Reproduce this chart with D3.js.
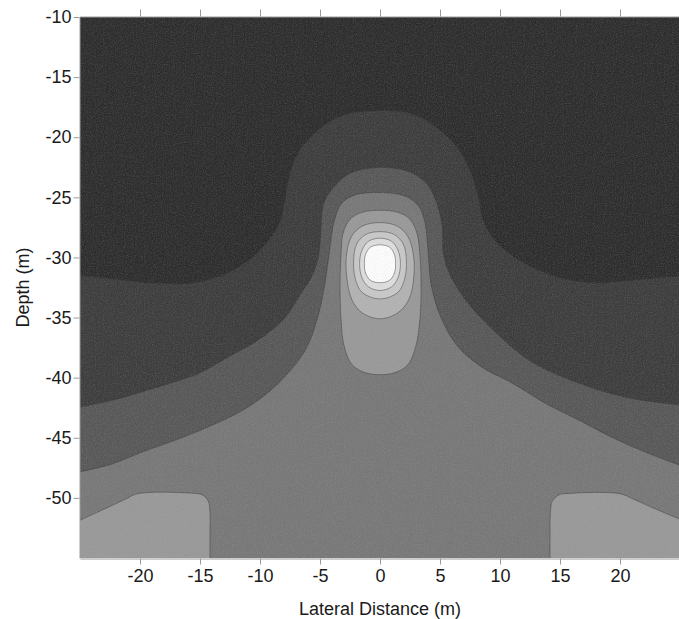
<!DOCTYPE html>
<html>
<head>
<meta charset="utf-8">
<script src="https://cdn.jsdelivr.net/npm/d3@7/dist/d3.min.js"></script>
<style>
  html, body { margin: 0; padding: 0; background: #fff; }
  svg { display: block; }
  text { font-family: "Liberation Sans", Arial, Helvetica, sans-serif; }
</style>
</head>
<body>
<svg id="chart" width="679" height="619"></svg>
<script>
// ---------- DATA (x = lateral distance m, y = depth m) ----------
const xTicks = [-20, -15, -10, -5, 0, 5, 10, 15, 20];
const yTicks = [-10, -15, -20, -25, -30, -35, -40, -45, -50];
const xDomain = [-25, 25];
const yDomain = [-10, -55];

// contour level index of each filled band (0 = darkest background, 8 = white core)
const levels = [0, 1, 2, 3, 4, 5, 6, 7, 8];

// boundary between level 0 and level 1 (edge to edge, with central hump)
const contour01 = [
  [-25.3, -31.5], [-22, -31.8], [-19.6, -32.1], [-15.4, -32.1], [-12.7, -31.3], [-10.8, -30.1],
  [-9.3, -28.6], [-8.3, -26.9], [-7.9, -25.0], [-7.5, -23.0], [-6.7, -21.1], [-5.0, -19.25],
  [-2.9, -18.1], [0, -17.8], [2.5, -18.0], [4.6, -19.1], [6.4, -20.8], [7.5, -22.75],
  [8.2, -25.0], [8.6, -26.9], [9.6, -28.6], [11.25, -30.0], [12.9, -30.9], [15.25, -31.75],
  [18.1, -32.1], [20.8, -31.9], [25.3, -31.5]
];
// boundary between level 1 and level 2
const contour12 = [
  [-25.3, -42.5], [-22.4, -41.9], [-19.6, -41.1], [-16.8, -40.25], [-15.0, -39.6], [-12.7, -38.3],
  [-9.9, -36.7], [-7.9, -35.0], [-6.6, -33.0], [-5.75, -31.7], [-5.2, -30.25], [-5.0, -28.8],
  [-4.9, -27.3], [-4.7, -25.5], [-3.9, -24.2], [-2.5, -23.0], [0, -22.5], [2.5, -22.9],
  [4.0, -24.0], [4.8, -25.7], [5.2, -27.6], [5.25, -29.4], [5.6, -30.9], [6.3, -32.3],
  [7.5, -34.0], [9.2, -35.8], [12.5, -38.6], [16.7, -40.5], [20.8, -41.7], [25.3, -42.3]
];
// boundary between level 2 and level 3
const contour23 = [
  [-25.3, -47.9], [-22.4, -47.2], [-19.6, -46.1], [-16.8, -45.1], [-14.1, -44.0], [-11.25, -42.6],
  [-8.5, -40.5], [-6.25, -37.75], [-5.2, -35.0], [-4.6, -32.2], [-4.2, -29.4], [-3.8, -26.9],
  [-3.2, -25.5], [-2.1, -24.8], [0, -24.6], [2.1, -24.9], [3.2, -25.7], [3.75, -27.1],
  [4.0, -29.4], [4.25, -32.2], [5.0, -34.8], [6.4, -37.3], [8.3, -39.0], [11.1, -40.5],
  [13.9, -42.2], [16.7, -43.6], [19.4, -45.0], [22.25, -46.25], [25.3, -47.4]
];
// level 3 -> 4 : bottom-left light block
const contour34Left = [
  [-14.17, -55.6], [-14.17, -53], [-14.17, -51.2], [-14.3, -50.3], [-14.8, -49.75], [-15.8, -49.6],
  [-20.2, -49.65], [-21.2, -50.1], [-22.6, -50.75], [-25.3, -52.0]
];
// level 3 -> 4 : bottom-right light block
const contour34Right = [
  [14.17, -55.6], [14.17, -53], [14.2, -51.2], [14.35, -50.3], [14.9, -49.75], [15.9, -49.62],
  [20.0, -49.65], [21.1, -50.1], [22.9, -50.9], [25.3, -51.9]
];
// level 3 -> 4 : central bell (closed)
const contour34Bell = [
  [0, -26.08], [-1.5, -26.25], [-2.5, -26.83], [-3.08, -28.0], [-3.25, -29.83], [-3.33, -32.33],
  [-3.25, -35.08], [-3.0, -37.33], [-2.33, -38.92], [-1.25, -39.58], [0, -39.75], [1.25, -39.58],
  [2.33, -38.92], [3.0, -37.33], [3.33, -35.08], [3.42, -32.33], [3.33, -29.83], [3.08, -28.0],
  [2.5, -26.83], [1.5, -26.25]
];
// level 4 -> 5 (closed)
const contour45 = [
  [0, -27.1], [-1.5, -27.4], [-2.4, -28.3], [-2.8, -29.9], [-2.75, -31.8], [-2.35, -33.5],
  [-1.5, -34.6], [0, -35.1], [1.5, -34.6], [2.4, -33.5], [2.8, -31.8], [2.8, -29.9],
  [2.35, -28.3], [1.45, -27.4]
];
// level 5 -> 6 (closed)
const contour56 = [
  [0, -27.85], [-1.2, -28.1], [-1.95, -28.9], [-2.2, -30.3], [-2.05, -31.8], [-1.5, -32.9],
  [0, -33.45], [1.5, -32.9], [2.05, -31.8], [2.2, -30.3], [1.95, -28.9], [1.2, -28.1]
];
// level 6 -> 7 (closed)
const contour67 = [
  [0, -28.4], [-0.95, -28.65], [-1.5, -29.4], [-1.7, -30.5], [-1.5, -31.7], [-0.95, -32.45],
  [0, -32.75], [0.95, -32.45], [1.5, -31.7], [1.7, -30.5], [1.5, -29.4], [0.95, -28.65]
];
// level 7 -> 8 (closed, white core)
const contour78 = [
  [0, -28.95], [-0.8, -29.15], [-1.2, -29.75], [-1.3, -30.5], [-1.2, -31.3], [-0.8, -31.9],
  [0, -32.1], [0.8, -31.9], [1.2, -31.3], [1.3, -30.5], [1.2, -29.75], [0.8, -29.15]
];

// ---------- CHART ----------
const svg = d3.select("#chart");
const x = d3.scaleLinear().domain(xDomain).range([80, 680]);
const y = d3.scaleLinear().domain(yDomain).range([17, 558]);
const gray = d3.scaleLinear()
  .domain([0, 1, 2, 3, 4, 5, 6, 7, 8])
  .range(["#2c2c2c", "#3c3c3c", "#575757", "#777777", "#989898", "#b2b2b2", "#c8c8c8", "#dedede", "#fdfdfd"]);

const defs = svg.append("defs");
defs.append("clipPath").attr("id", "plotClip")
  .append("rect")
  .attr("x", x(xDomain[0])).attr("y", y(yDomain[0]))
  .attr("width", x(xDomain[1]) - x(xDomain[0]))
  .attr("height", y(yDomain[1]) - y(yDomain[0]));

// subtle print grain
const grain = defs.append("filter").attr("id", "grain")
  .attr("x", 0).attr("y", 0).attr("width", "100%").attr("height", "100%");
grain.append("feTurbulence").attr("type", "fractalNoise").attr("baseFrequency", 0.9)
  .attr("numOctaves", 2).attr("seed", 3).attr("result", "noise");
grain.append("feColorMatrix").attr("in", "noise").attr("type", "matrix")
  .attr("values", "0 0 0 0 0.5  0 0 0 0 0.5  0 0 0 0 0.5  0.6 0.6 0.6 0 -0.75");

const plot = svg.append("g").attr("clip-path", "url(#plotClip)");

const openLine = d3.line().x(d => x(d[0])).y(d => y(d[1])).curve(d3.curveCatmullRom.alpha(0.5));
const closedLine = d3.line().x(d => x(d[0])).y(d => y(d[1])).curve(d3.curveCatmullRomClosed.alpha(0.5));

// background level 0
plot.append("rect")
  .attr("x", x(xDomain[0])).attr("y", y(yDomain[0]))
  .attr("width", x(xDomain[1]) - x(xDomain[0]))
  .attr("height", y(yDomain[1]) - y(yDomain[0]))
  .attr("fill", gray(levels[0]));

function bandToBottom(pts, lvl) {
  const d = openLine(pts) + "L" + x(25.5) + "," + y(-56) + "L" + x(-25.5) + "," + y(-56) + "Z";
  plot.append("path").attr("d", d).attr("fill", gray(lvl));
}
function cornerBlock(pts, cornerX, lvl) {
  const d = openLine(pts) + "L" + x(cornerX) + "," + y(-56) + "Z";
  plot.append("path").attr("d", d).attr("fill", gray(lvl));
}
function closedBand(pts, lvl) {
  plot.append("path").attr("d", closedLine(pts)).attr("fill", gray(lvl));
}

bandToBottom(contour01, levels[1]);
bandToBottom(contour12, levels[2]);
bandToBottom(contour23, levels[3]);
cornerBlock(contour34Left, -25.5, levels[4]);
cornerBlock(contour34Right, 25.5, levels[4]);
closedBand(contour34Bell, levels[4]);
closedBand(contour45, levels[5]);
closedBand(contour56, levels[6]);
closedBand(contour67, levels[7]);
closedBand(contour78, levels[8]);

// contour lines
const lineStyle = sel => sel.attr("fill", "none").attr("stroke", "#303030").attr("stroke-opacity", 0.45).attr("stroke-width", 1);
[contour01, contour12, contour23, contour34Left, contour34Right].forEach(c =>
  plot.append("path").attr("d", openLine(c)).call(lineStyle));
[contour34Bell, contour45, contour56, contour67, contour78].forEach(c =>
  plot.append("path").attr("d", closedLine(c)).call(lineStyle));

// grain overlay
plot.append("rect")
  .attr("x", x(xDomain[0])).attr("y", y(yDomain[0]))
  .attr("width", x(xDomain[1]) - x(xDomain[0]))
  .attr("height", y(yDomain[1]) - y(yDomain[0]))
  .attr("filter", "url(#grain)").attr("opacity", 0.35);

// ---------- AXES ----------
const fmt = d => String(d);
function styleAxis(g) {
  g.selectAll(".domain").attr("stroke", "#9a9a9a").attr("stroke-width", 1);
  g.selectAll(".tick line").attr("stroke", "#9a9a9a").attr("stroke-width", 1);
  g.selectAll(".tick text").attr("fill", "#1a1a1a").attr("font-size", "18px")
    .attr("font-family", '"Liberation Sans", Arial, sans-serif');
}
svg.append("g").attr("transform", `translate(${x(xDomain[0]) - 0.5},0)`)
  .call(d3.axisLeft(y).tickValues(yTicks).tickFormat(fmt).tickSize(6).tickSizeOuter(0).tickPadding(2))
  .call(styleAxis);
svg.append("g").attr("transform", `translate(0,${y(yDomain[1]) + 0.5})`)
  .call(d3.axisBottom(x).tickValues(xTicks).tickFormat(fmt).tickSize(6).tickSizeOuter(0).tickPadding(5))
  .call(styleAxis);
svg.append("g").attr("transform", `translate(0,${y(yDomain[0]) - 0.5})`)
  .call(d3.axisTop(x).tickValues(xTicks).tickFormat("").tickSize(7).tickSizeOuter(0))
  .call(styleAxis);

// axis titles
svg.append("text")
  .attr("x", x(0)).attr("y", 615)
  .attr("text-anchor", "middle").attr("font-size", "18px").attr("fill", "#1a1a1a")
  .text("Lateral Distance (m)");
svg.append("text")
  .attr("transform", `translate(29,${y(-32.5)}) rotate(-90)`)
  .attr("text-anchor", "middle").attr("font-size", "18px").attr("fill", "#1a1a1a")
  .text("Depth (m)");
</script>
</body>
</html>
